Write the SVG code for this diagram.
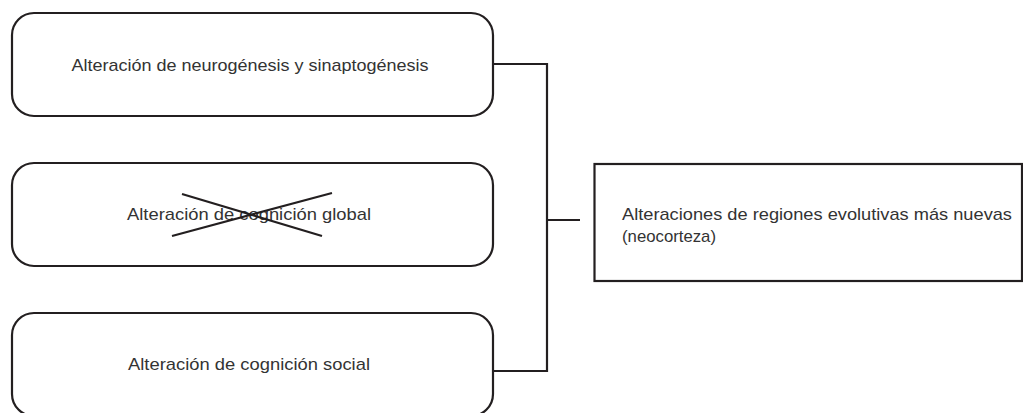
<svg xmlns="http://www.w3.org/2000/svg" width="1023" height="413" viewBox="0 0 1023 413">
<style>
.box{fill:#fff;stroke:#231f20;stroke-width:2.2}
.ln{fill:none;stroke:#231f20;stroke-width:2.2}
.t{font-family:"Liberation Sans",Arial,sans-serif;font-size:17px;fill:#333}
.tc{text-anchor:middle}
</style>
<rect width="1023" height="413" fill="#fff"/>
<g id="connectors">
<path class="ln" d="M493,64 H547 V371 H493"/>
<path class="ln" d="M547,220 H580"/>
</g>
<g id="node1">
<rect class="box" x="12" y="13" width="481" height="103" rx="22"/>
<text class="t tc" x="250" y="71" textLength="357" lengthAdjust="spacingAndGlyphs">Alteración de neurogénesis y sinaptogénesis</text>
</g>
<g id="node2">
<rect class="box" x="12" y="163" width="481" height="103" rx="22"/>
<text class="t tc" x="249" y="220" textLength="244" lengthAdjust="spacingAndGlyphs">Alteración de cognición global</text>
<path class="ln" d="M182,194 L322,236 M172,236 L332,193"/>
</g>
<g id="node3">
<rect class="box" x="12" y="313" width="481" height="103" rx="22"/>
<text class="t tc" x="249" y="370" textLength="242" lengthAdjust="spacingAndGlyphs">Alteración de cognición social</text>
</g>
<g id="node4">
<rect class="box" x="594.5" y="164" width="427.5" height="117"/>
<text class="t" x="622" y="220" textLength="390" lengthAdjust="spacingAndGlyphs">Alteraciones de regiones evolutivas más nuevas</text>
<text class="t" x="622" y="242" textLength="94" lengthAdjust="spacingAndGlyphs">(neocorteza)</text>
</g>
</svg>
